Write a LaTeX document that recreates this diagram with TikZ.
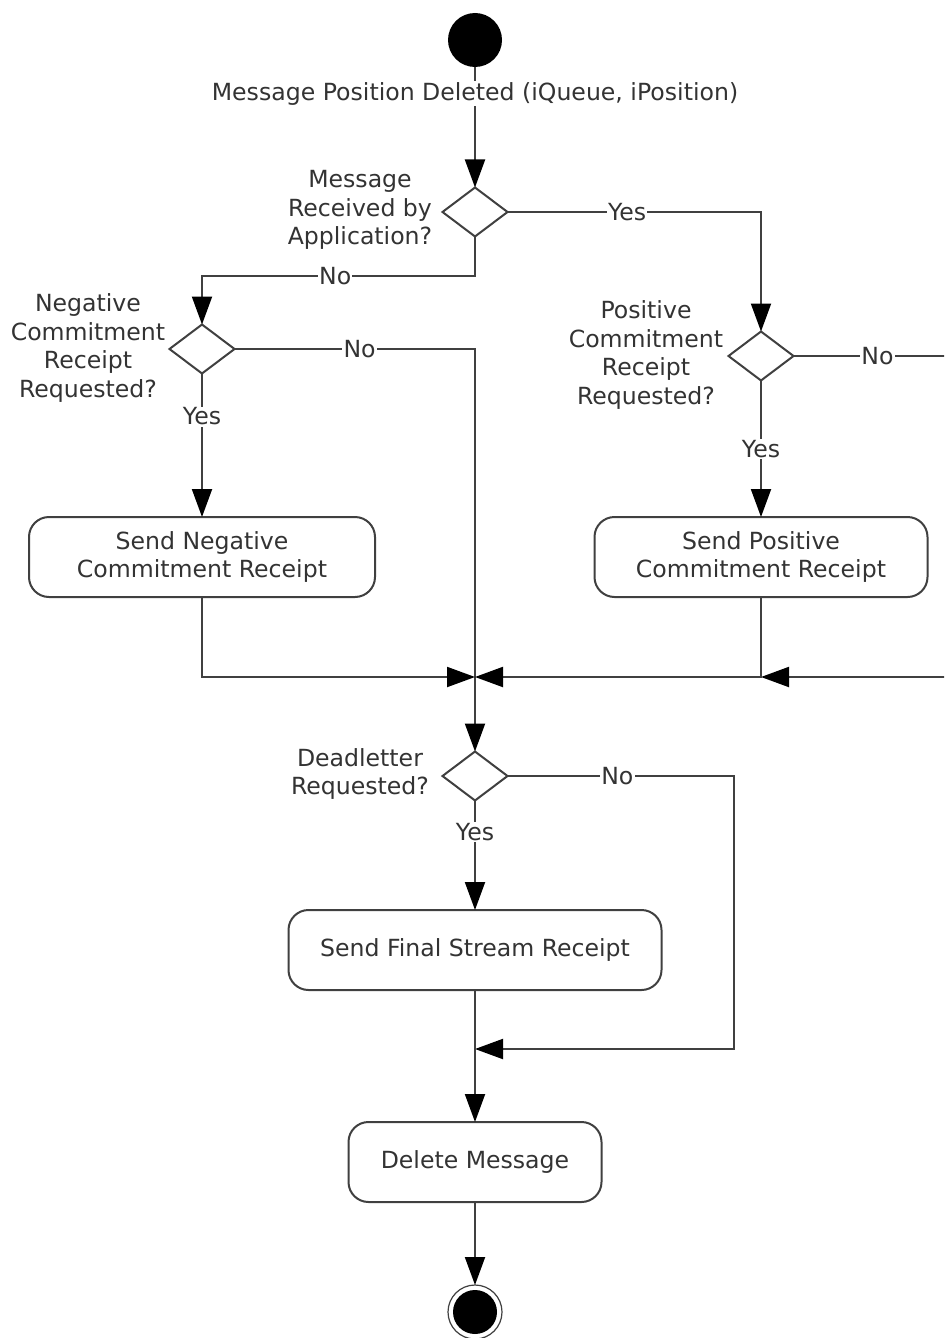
\documentclass[tikz,border=0pt]{standalone}
\usepackage{fontspec}
\setmainfont{DejaVu Sans}
\usetikzlibrary{arrows.meta,shapes.geometric}
\definecolor{lc}{HTML}{404040}
\definecolor{tc}{HTML}{333333}
\tikzset{
  line/.style={draw=lc, line width=1pt},
  arr/.style={line, -{Triangle[length=14pt,width=10pt,color=black,fill=black]}},
  actbox/.style={draw=lc, line width=1pt, rounded corners=10pt, minimum height=40pt, align=center, text=tc, inner sep=0pt, outer sep=0pt},
  dec/.style={draw=lc, line width=1pt, diamond, minimum width=32.5pt, minimum height=24.5pt, inner sep=0pt, outer sep=0pt},
  lbl/.style={fill=white, text=tc, inner sep=0.6pt},
  dlbl/.style={text=tc, align=center, inner sep=0pt},
}
\begin{document}
\begin{tikzpicture}[x=0.5pt,y=-0.5pt,font=\fontsize{11.8pt}{14.25pt}\selectfont]
\useasboundingbox (0,0) rectangle (944,1338);
\clip (0,0) rectangle (944,1338);
\fill[white] (0,0) rectangle (944,1338);

% nodes
\node[circle, fill=black, minimum size=27pt, inner sep=0pt, outer sep=0pt] (start) at (475,40) {};
\node[dec] (d1) at (475,212) {};
\node[dec] (d2) at (761,356) {};
\node[dec] (d3) at (202,349) {};
\node[dec] (d4) at (475,776) {};
\node[actbox, minimum width=173pt] (nbox) at (202,557) {Send Negative\\Commitment Receipt};
\node[actbox, minimum width=166.5pt] (pbox) at (761,557) {Send Positive\\Commitment Receipt};
\node[actbox, minimum width=186.5pt] (fbox) at (475,950) {Send Final Stream Receipt};
\node[actbox, minimum width=126.5pt] (dbox) at (475,1162) {Delete Message};
\node[circle, draw=lc, line width=0.6pt, minimum size=27pt, inner sep=0pt, outer sep=0pt] (end) at (475,1312) {};
\node[circle, fill=black, minimum size=22pt, inner sep=0pt] (endin) at (end) {};

% decision labels
\node[dlbl] (l1) at (360,210) {Message\\Received by\\Application?};
\node[dlbl] (l3) at (88,348) {Negative\\Commitment\\Receipt\\Requested?};
\node[dlbl] (l2) at (646,355) {Positive\\Commitment\\Receipt\\Requested?};
\node[dlbl] (l4) at (360,774) {Deadletter\\Requested?};

% junction coordinates
\coordinate (j1) at (475,276);
\coordinate (j2) at (475,677);
\coordinate (pj) at (761,677);
\coordinate (r1) at (980,356);
\coordinate (r2) at (980,677);
\coordinate (r3) at (734,776);
\coordinate (r4) at (734,1049);
\coordinate (j3) at (475,1049);

% connectors
\draw[arr] (start) -- node[lbl, pos=0.22] {Message Position Deleted (iQueue, iPosition)} (d1);
\draw[arr] (d1.east) -| node[lbl, pos=0.236] {Yes} (d2.north);
\draw[arr] (d1.south) -- (j1) -| node[lbl, pos=0.256] {No} (d3.north);
\draw[arr] (d3.east) -| node[lbl, pos=0.26] {No} (d4.north);
\draw[arr] (d3.south) -- node[lbl, pos=0.30] {Yes} (nbox.north);
\draw[arr] (d2.south) -- node[lbl, pos=0.5] {Yes} (pbox.north);
\draw[arr] (d2.east) -- node[lbl, pos=0.45] {No} (r1) -- (r2) -- (pj);
\draw[arr] (pbox.south) |- (j2);
\draw[arr] (nbox.south) |- (j2);
\draw[arr] (d4.east) -- node[lbl, pos=0.485] {No} (r3) -- (r4) -- (j3);
\draw[arr] (d4.south) -- node[lbl, pos=0.29] {Yes} (fbox.north);
\draw[arr] (fbox.south) -- (dbox.north);
\draw[arr] (dbox.south) -- (end.north);
\end{tikzpicture}
\end{document}
